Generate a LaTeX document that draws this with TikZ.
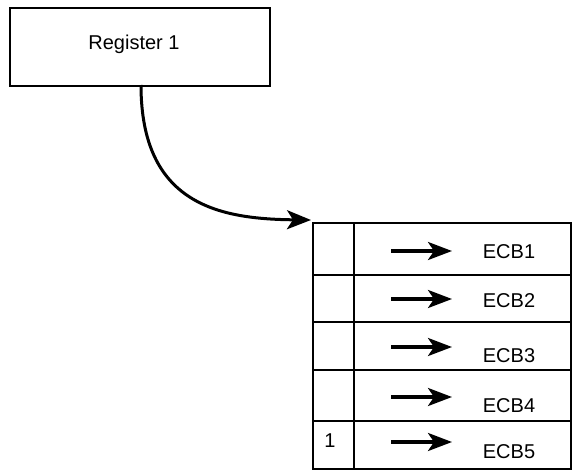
\documentclass[tikz,border=0pt]{standalone}
\usepackage{fontspec}
\setmainfont{Liberation Sans}
\usetikzlibrary{arrows.meta}
\begin{document}
\begin{tikzpicture}[x=1pt,y=-1pt,
  box/.style={draw, line width=2.1pt, inner sep=0pt, anchor=north west},
  lbl/.style={font=\fontsize{20}{24}\selectfont, inner sep=0pt},
  ptr/.style={line width=3.2pt, -{Stealth[length=24pt,width=18pt,inset=6pt]}},
  link/.style={line width=3pt, -{Stealth[length=24pt,width=19pt,inset=6pt]}}]
\useasboundingbox (0,0) rectangle (576,471);
\node[box, minimum width=260pt, minimum height=78pt] (reg) at (9,7) {};
\node[lbl] (regt) at (134,44) {Register 1};
% table cells
\node[box, minimum width=41pt, minimum height=52pt] (l1) at (312,222) {};
\node[box, minimum width=217pt, minimum height=52pt] (r1) at (353,222) {};
\node[box, minimum width=41pt, minimum height=47pt] (l2) at (312,274) {};
\node[box, minimum width=217pt, minimum height=47pt] (r2) at (353,274) {};
\node[box, minimum width=41pt, minimum height=48pt] (l3) at (312,321) {};
\node[box, minimum width=217pt, minimum height=48pt] (r3) at (353,321) {};
\node[box, minimum width=41pt, minimum height=51pt] (l4) at (312,369) {};
\node[box, minimum width=217pt, minimum height=51pt] (r4) at (353,369) {};
\node[box, minimum width=41pt, minimum height=48pt] (l5) at (312,420) {};
\node[box, minimum width=217pt, minimum height=48pt] (r5) at (353,420) {};
\node[lbl] (one) at (330,441) {1};
% inner pointers
\coordinate (a1s) at (391,251); \coordinate (a1e) at (452,251);
\coordinate (a2s) at (391,299); \coordinate (a2e) at (452,299);
\coordinate (a3s) at (391,347); \coordinate (a3e) at (452,347);
\coordinate (a4s) at (391,397); \coordinate (a4e) at (452,397);
\coordinate (a5s) at (391,442); \coordinate (a5e) at (452,442);
\draw[ptr] (a1s) -- (a1e);
\draw[ptr] (a2s) -- (a2e);
\draw[ptr] (a3s) -- (a3e);
\draw[ptr] (a4s) -- (a4e);
\draw[ptr] (a5s) -- (a5e);
\node[lbl] (e1) at (509,252) {ECB1};
\node[lbl] (e2) at (509,301) {ECB2};
\node[lbl] (e3) at (509,356) {ECB3};
\node[lbl] (e4) at (509,406) {ECB4};
\node[lbl] (e5) at (509,452) {ECB5};
% link
\coordinate (rs) at (141,85);
\coordinate (tip) at (311,220);
\draw[link] (rs) .. controls (141,205) and (220,219) .. (tip);
\end{tikzpicture}
\end{document}
